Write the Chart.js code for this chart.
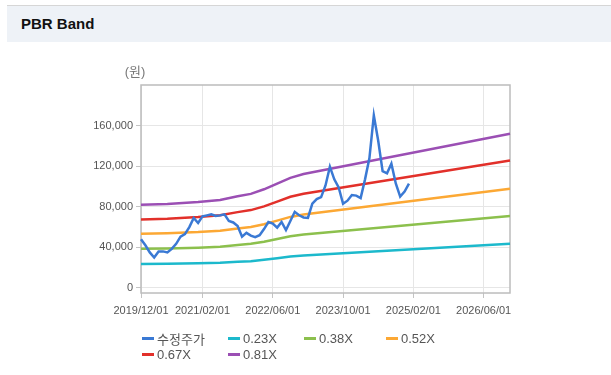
<!DOCTYPE html>
<html>
<head>
<meta charset="utf-8">
<script src="https://cdn.jsdelivr.net/npm/chart.js@4.4.0/dist/chart.umd.min.js"></script>
<style>
  body { margin: 0; background: #fff; width: 611px; height: 375px; position: relative; overflow: hidden;
         font-family: "Liberation Sans", "Noto Sans CJK KR", sans-serif; }
  .head { position: absolute; left: 7px; right: 0; top: 5px; height: 36px; background: #eef2f7;
          border-top: 1px solid #d6d6d6; line-height: 36px; padding-left: 14px;
          font-weight: bold; font-size: 15px; color: #111; }
  #chart { position: absolute; left: 0; top: 42px; }
  #legend { position: absolute; left: 142px; top: 330px; display: grid;
            grid-template-columns: 86px 76px 82px 80px; grid-auto-rows: 16px;
            font-size: 13px; color: #555; }
  #legend div { display: flex; align-items: center; white-space: nowrap; }
  #legend span { display: inline-block; width: 12px; height: 3px; margin-right: 3px; }
</style>
</head>
<body>
<div class="head">PBR Band</div>
<canvas id="chart" width="611" height="290"></canvas>
<div id="legend"></div>
<script>
// 월별 카테고리 (2019/12 ~ 2026/12)
const months = []
for (let k = 0; k < 85; k++) {
    const y = 2019 + Math.floor((11 + k) / 12)
    const m = (11 + k) % 12 + 1
    months.push(y + '/' + String(m).padStart(2, '0') + '/01')
}
const xTickLabels = ['2019/12/01', '2021/02/01', '2022/06/01', '2023/10/01', '2025/02/01', '2026/06/01']
const yTicks = [0, 40000, 80000, 120000, 160000]

// 수정주가 (월별, 2019/12 ~ 2025/01)
const priceValues = [48000, 42000, 35000, 30000, 36000, 36000, 35000, 38500, 43500, 50500,
    53000, 60000, 69000, 64000, 70500, 71500, 72500, 71000, 71500, 72500,
    66000, 64500, 61000, 50500, 54300, 51500, 50000, 52000, 58000, 65000,
    63500, 59500, 65000, 57000, 66000, 75000, 71600, 69500, 69000, 83000,
    87500, 89500, 101000, 119500, 107000, 99000, 83000, 86000, 91500, 91000,
    88500, 107000, 128000, 170000, 145000, 115000, 113000, 122500, 103000, 90000,
    95000, 102700]

// 밴드 꺾임 지점
const bandDates = ['2019/12/01', '2020/06/01', '2021/01/01', '2021/06/01', '2021/10/01', '2022/01/01',
    '2022/04/01', '2022/07/01', '2022/10/01', '2023/01/01', '2026/12/01']
const band023 = [23700, 23900, 24300, 24800, 25700, 26400, 27800, 29300, 30900, 32000, 43500]
const band038 = [38500, 38800, 39700, 40700, 42400, 43500, 45600, 48300, 50900, 52600, 71000]
const band052 = [53500, 54000, 55000, 56300, 58500, 60000, 62800, 66300, 70000, 72300, 97800]
const band067 = [67500, 68300, 70000, 71700, 74700, 76700, 80400, 85100, 89800, 92800, 125500]
const band081 = [82000, 82700, 84600, 86700, 90300, 92700, 97200, 102900, 108500, 112200, 152000]

const bandPoints = vals => vals.map((v, i) => ({ x: bandDates[i], y: v }))

const line = (label, data, color) => ({
    label, data,
    borderColor: color,
    backgroundColor: color,
    borderWidth: 2.5,
    pointRadius: 0,
    tension: 0,
    fill: false
})

const frame = {
    id: 'frame',
    beforeDatasetsDraw(chart) {
        const { ctx, chartArea: a } = chart
        ctx.save()
        ctx.strokeStyle = '#bcbcbc'
        ctx.lineWidth = 1.5
        ctx.strokeRect(a.left, a.top, a.right - a.left, a.bottom - a.top)
        ctx.restore()
    },
    afterDraw(chart) {
        const { ctx, chartArea: a } = chart
        ctx.save()
        ctx.fillStyle = '#777'
        ctx.font = '13px "Liberation Sans", "Noto Sans CJK KR", sans-serif'
        ctx.textAlign = 'center'
        ctx.textBaseline = 'middle'
        ctx.fillText('(원)', a.left - 6, a.top - 13)
        ctx.restore()
    }
}

Chart.defaults.font.family = '"Liberation Sans", "Noto Sans CJK KR", sans-serif'

const chart = new Chart(document.getElementById('chart'), {
    type: 'line',
    data: {
        labels: months,
        datasets: [
            line('수정주가', priceValues, '#3a79d4'),
            line('0.23X', bandPoints(band023), '#1cb9cc'),
            line('0.38X', bandPoints(band038), '#8cc04d'),
            line('0.52X', bandPoints(band052), '#fca834'),
            line('0.67X', bandPoints(band067), '#e2302a'),
            line('0.81X', bandPoints(band081), '#9b4fb4')
        ]
    },
    options: {
        responsive: false,
        animation: false,
        events: [],
        layout: { padding: { left: 0, right: 101, top: 43, bottom: 0 } },
        plugins: {
            legend: { display: false },
            tooltip: { enabled: false }
        },
        scales: {
            x: {
                type: 'category',
                border: { display: false },
                grid: { color: '#e6e6e6', tickColor: '#c4c4c4', tickLength: 5 },
                ticks: { autoSkip: false, maxRotation: 0, color: '#555', font: { size: 11 }, padding: 6 },
                afterBuildTicks: axis => {
                    axis.ticks = axis.ticks.filter(t => xTickLabels.includes(months[t.value]))
                },
                afterFit: axis => { axis.height = 39 }
            },
            y: {
                min: -5000,
                max: 200000,
                border: { display: false },
                grid: { color: '#e6e6e6', tickColor: '#c4c4c4', tickLength: 5 },
                ticks: {
                    color: '#555', font: { size: 11 }, padding: 3,
                    callback: v => v.toLocaleString('en-US')
                },
                afterBuildTicks: axis => {
                    axis.ticks = yTicks.map(v => ({ value: v }))
                },
                afterFit: axis => { axis.width = 141 }
            }
        }
    },
    plugins: [frame]
})

// 범례 (HTML)
document.getElementById('legend').innerHTML = chart.data.datasets.map(ds =>
    '<div><span style="background:' + ds.borderColor + '"></span>' + ds.label + '</div>'
).join('')
</script>
</body>
</html>
